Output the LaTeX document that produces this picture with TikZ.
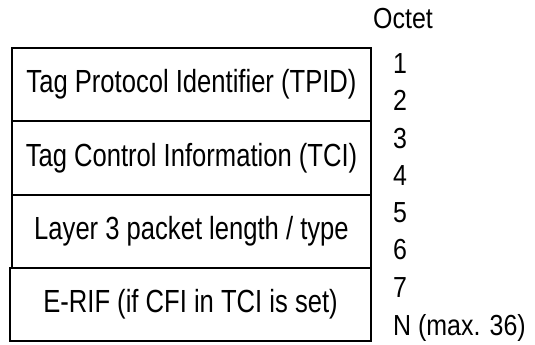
\documentclass[tikz,border=0pt]{standalone}
\usepackage{fontspec}
\setmainfont{Liberation Sans}[FakeStretch=0.80]
\newfontfamily\labelfont{Liberation Sans}[FakeStretch=0.86]
\begin{document}
\begin{tikzpicture}[x=1pt,y=-1pt,
  field/.style={draw, line width=2.6pt, rectangle, inner sep=0pt,
    font=\fontsize{32}{36}\selectfont},
  octet/.style={anchor=base west, inner sep=0pt,
    font=\labelfont\fontsize{29}{33}\selectfont}]
  \useasboundingbox (0,0) rectangle (535,345);
  % header fields of the tag
  \node[field, minimum width=359pt, minimum height=73pt] (tpid) at (191.5,84.5) {Tag Protocol Identifier (TPID)};
  \node[field, minimum width=359pt, minimum height=74pt] (tci) at (191.5,158) {Tag Control Information (TCI)};
  \node[field, minimum width=359pt, minimum height=73pt] (len) at (191.5,231.5) {Layer 3 packet length / type};
  \node[field, minimum width=361pt, minimum height=73pt] (erif) at (190.5,304.5) {E-RIF (if CFI in TCI is set)};
  % octet numbering
  \node[octet] (hdr) at (373,29) {Octet};
  \node[octet] (o1) at (393,73.5) {1};
  \node[octet] (o2) at (393,110.5) {2};
  \node[octet] (o3) at (393,148) {3};
  \node[octet] (o4) at (393,185) {4};
  \node[octet] (o5) at (393,222.5) {5};
  \node[octet] (o6) at (393,259.5) {6};
  \node[octet] (o7) at (393,297) {7};
  \node[octet] (oN) at (393,335) {N (max. 36)};
\end{tikzpicture}
\end{document}
